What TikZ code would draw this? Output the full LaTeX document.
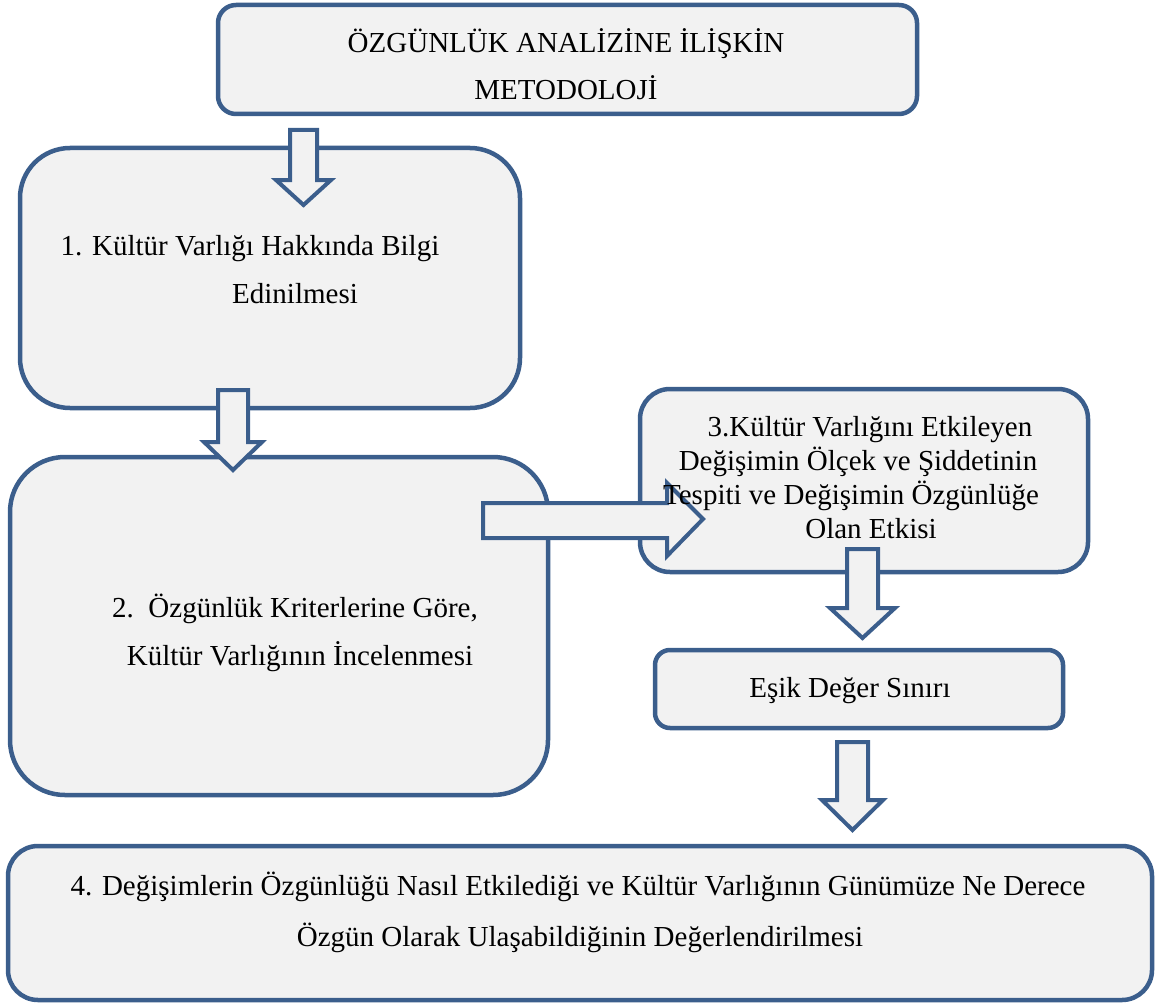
\documentclass[tikz,border=0pt]{standalone}
\usepackage{fontspec}
\setmainfont{Liberation Serif}
\definecolor{edge}{HTML}{3B5E8C}
\definecolor{boxfill}{HTML}{F2F2F2}
\tikzset{
  box/.style={draw=edge, fill=boxfill, line width=4.5pt, inner sep=0pt},
  blockarrow/.style={draw=edge, fill=boxfill, line width=4pt, line join=miter},
  label/.style={font=\fontsize{29}{34}\selectfont, inner sep=0pt, anchor=base, align=center},
}
\begin{document}
\begin{tikzpicture}[x=1pt,y=-1pt]
\useasboundingbox (0,0) rectangle (1155,1003);
% boxes
\node[box, rounded corners=18pt, minimum width=699pt, minimum height=109pt] (title) at (567.5,59.5) {};
\node[box, rounded corners=50pt, minimum width=500pt, minimum height=260pt] (b1) at (270,278) {};
\node[box, rounded corners=55pt, minimum width=538pt, minimum height=338pt] (b2) at (279,626) {};
\node[box, rounded corners=30pt, minimum width=448pt, minimum height=183pt] (b3) at (864,480.5) {};
\node[box, rounded corners=15pt, minimum width=408pt, minimum height=78pt] (esik) at (859,689) {};
\node[box, rounded corners=30pt, minimum width=1144pt, minimum height=154pt] (b4) at (580,923) {};
% block arrows
\draw[blockarrow] (290,130) -- (317,130) -- (317,180) -- (331,180) -- (303.5,205) -- (276,180) -- (290,180) -- cycle;
\draw[blockarrow] (218,390) -- (248,390) -- (248,442) -- (262,442) -- (233,470) -- (204,442) -- (218,442) -- cycle;
\draw[blockarrow] (483,503) -- (667,503) -- (667,483) -- (703,519) -- (667,556) -- (667,538) -- (483,538) -- cycle;
\draw[blockarrow] (847,549) -- (878,549) -- (878,608) -- (895,608) -- (862.5,638) -- (830,608) -- (847,608) -- cycle;
\draw[blockarrow] (837,742) -- (868,742) -- (868,800) -- (883,800) -- (852.5,830) -- (822,800) -- (837,800) -- cycle;
% texts
\node[label] (t1) at (566,53) {ÖZGÜNLÜK ANALİZİNE İLİŞKİN};
\node[label] (t2) at (566,100) {METODOLOJİ};
\node[label] (t3) at (250,255) {1. Kültür Varlığı Hakkında Bilgi};
\node[label] (t4) at (295,303) {Edinilmesi};
\node[label] (t5) at (295,617) {2.\ \ Özgünlük Kriterlerine Göre,};
\node[label] (t6) at (300,665) {Kültür Varlığının İncelenmesi};
\node[label] (t7) at (870,436) {3.Kültür Varlığını Etkileyen};
\node[label] (t8) at (858,470) {Değişimin Ölçek ve Şiddetinin};
\node[label] (t9) at (851,504) {Tespiti ve Değişimin Özgünlüğe};
\node[label] (t10) at (871,538) {Olan Etkisi};
\node[label] (t11) at (850,697) {Eşik Değer Sınırı};
\node[label] (t12) at (578,895) {4. Değişimlerin Özgünlüğü Nasıl Etkilediği ve Kültür Varlığının Günümüze Ne Derece};
\node[label] (t13) at (580,946) {Özgün Olarak Ulaşabildiğinin Değerlendirilmesi};
\end{tikzpicture}
\end{document}
